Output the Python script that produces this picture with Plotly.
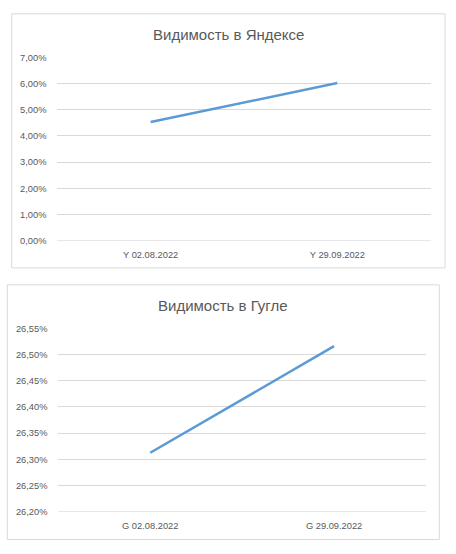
import plotly.graph_objects as go

W, H = 456, 554

# Data (fractions, shown as percent)
yandex_dates = ["Y 02.08.2022", "Y 29.09.2022"]
yandex_vis = [0.0453, 0.0602]
google_dates = ["G 02.08.2022", "G 29.09.2022"]
google_vis = [0.263125, 0.26516]

yandex_ticks = [0.00, 0.01, 0.02, 0.03, 0.04, 0.05, 0.06, 0.07]
google_ticks = [0.2620, 0.2625, 0.2630, 0.2635, 0.2640, 0.2645, 0.2650, 0.2655]

def px_x(v):
    return v / W

def px_y(v):
    return 1 - v / H

LINE = "#5b9bd5"
GRID = "#d9d9d9"
TXT = "#595959"
FONT = "Liberation Sans, Arial, sans-serif"

fig = go.Figure()
fig.add_trace(go.Scatter(x=yandex_dates, y=yandex_vis, mode="lines",
                         line=dict(color=LINE, width=2.5), xaxis="x", yaxis="y",
                         showlegend=False, hoverinfo="skip"))
fig.add_trace(go.Scatter(x=google_dates, y=google_vis, mode="lines",
                         line=dict(color=LINE, width=2.5), xaxis="x2", yaxis="y2",
                         showlegend=False, hoverinfo="skip"))

common_x = dict(type="category", range=[-0.5, 1.5], showgrid=False, zeroline=False,
                showline=False, ticks="outside", ticklen=5, tickcolor="rgba(0,0,0,0)",
                tickfont=dict(family=FONT, size=9.3, color=TXT), fixedrange=True)
common_y = dict(showgrid=True, gridcolor=GRID, gridwidth=1, zeroline=False, showline=False,
                ticks="outside", ticklen=8, tickcolor="rgba(0,0,0,0)",
                tickfont=dict(family=FONT, size=9.3, color=TXT),
                tickformat=".2%", fixedrange=True)

fig.update_layout(
    width=W, height=H, margin=dict(l=0, r=0, t=0, b=0),
    paper_bgcolor="white", plot_bgcolor="white",
    separators=", ",
    xaxis=dict(common_x, domain=[px_x(57.3), px_x(430.7)], anchor="y"),
    yaxis=dict(common_y, domain=[px_y(240), px_y(53.3)], anchor="x",
               range=[0, 0.07], tickvals=yandex_ticks),
    xaxis2=dict(common_x, domain=[px_x(58.3), px_x(426)], anchor="y2"),
    yaxis2=dict(common_y, domain=[px_y(516), px_y(329.3)], anchor="x2",
                range=[0.2620, 0.2655], tickvals=google_ticks),
    shapes=[
        dict(type="rect", xref="paper", yref="paper",
             x0=px_x(11.7), x1=px_x(445), y0=px_y(267.7), y1=px_y(9),
             line=dict(color=GRID, width=1)),
        dict(type="rect", xref="paper", yref="paper",
             x0=px_x(7.3), x1=px_x(439.3), y0=px_y(544.3), y1=px_y(285),
             line=dict(color=GRID, width=1)),
        dict(type="line", xref="x domain", yref="y", x0=0, x1=1, y0=0, y1=0,
             line=dict(color=GRID, width=1)),
        dict(type="line", xref="x2 domain", yref="y2", x0=0, x1=1, y0=0.2620, y1=0.2620,
             line=dict(color=GRID, width=1)),
    ],
    annotations=[
        dict(text="Видимость в Яндексе", xref="paper", yref="paper",
             x=px_x(228), y=px_y(30), xanchor="center", yanchor="middle",
             showarrow=False, font=dict(family=FONT, size=15, color=TXT)),
        dict(text="Видимость в Гугле", xref="paper", yref="paper",
             x=px_x(223), y=px_y(306), xanchor="center", yanchor="middle",
             showarrow=False, font=dict(family=FONT, size=15, color=TXT)),
    ],
)

fig.write_html("out.html")
